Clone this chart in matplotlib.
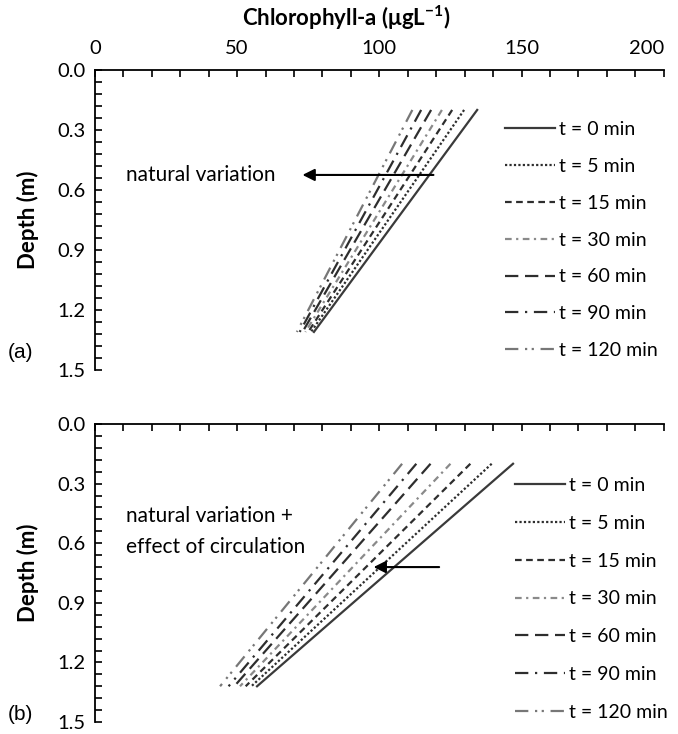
import matplotlib
matplotlib.use("Agg")
import matplotlib.pyplot as plt
from matplotlib.ticker import MultipleLocator

plt.rcParams['font.family'] = ['Lato', 'DejaVu Sans']
plt.rcParams['mathtext.fontset'] = 'custom'
plt.rcParams['mathtext.rm'] = 'Lato'
plt.rcParams['mathtext.bf'] = 'Lato:bold'

# data: each profile is a straight line between two depths
labels = ['t = 0 min', 't = 5 min', 't = 15 min', 't = 30 min',
          't = 60 min', 't = 90 min', 't = 120 min']
depth_a = [0.2, 1.31]
chl_a_top = [134.4, 129.8, 125.6, 122.0, 118.2, 114.7, 111.6]
chl_a_bot = [77.0, 76.0, 75.0, 74.0, 73.0, 72.0, 71.0]

depth_b = [0.2, 1.32]
chl_b_top = [147.0, 139.5, 132.0, 125.0, 118.0, 113.0, 108.0]
chl_b_bot = [57.0, 55.0, 53.0, 51.0, 49.0, 47.0, 44.0]

x_ticks = [0, 50, 100, 150, 200]
y_ticks = [0.0, 0.3, 0.6, 0.9, 1.2, 1.5]

styles = ['-', (0, (1, 1)), (0, (3, 2)), (0, (3, 2, 1, 2)),
          (0, (6, 3)), (0, (6, 3, 1, 3)), (0, (6, 3, 1, 2, 1, 3))]
colors = ['#3a3a3a', '#2e2e2e', '#2e2e2e', '#8a8a8a',
          '#2e2e2e', '#2e2e2e', '#777777']

fig = plt.figure(figsize=(6.78, 7.34), dpi=100)
ax1 = fig.add_axes([0.140, 0.496, 0.839, 0.4087])
ax2 = fig.add_axes([0.140, 0.0163, 0.839, 0.406])


def style_axis(ax, show_xlabels):
    ax.set_xlim(0, 200)
    ax.set_ylim(1.5, 0.0)
    ax.xaxis.tick_top()
    ax.set_xticks(x_ticks)
    ax.set_xticklabels([str(v) for v in x_ticks])
    ax.xaxis.set_minor_locator(MultipleLocator(10))
    ax.yaxis.set_minor_locator(MultipleLocator(0.06))
    ax.set_yticks(y_ticks)
    ax.set_yticklabels([f'{v:.1f}' for v in y_ticks])
    ax.tick_params(which='both', direction='in', length=5, width=1.2,
                   labelsize=14.5, pad=7)
    ax.tick_params(axis='x', pad=9)
    if not show_xlabels:
        ax.tick_params(axis='x', labeltop=False)
    for s in ['right', 'bottom']:
        ax.spines[s].set_visible(False)
    for s in ['left', 'top']:
        ax.spines[s].set_linewidth(1.3)
    ax.set_ylabel('Depth (m)', fontsize=16, fontweight='bold')
    ax.yaxis.set_label_coords(-0.098, 0.5)


for ax, d, top, bot in [(ax1, depth_a, chl_a_top, chl_a_bot),
                        (ax2, depth_b, chl_b_top, chl_b_bot)]:
    for i in range(len(labels)):
        ax.plot([top[i], bot[i]], d, linestyle=styles[i], color=colors[i],
                lw=1.6, label=labels[i])

style_axis(ax1, True)
style_axis(ax2, False)
# last x label sits flush with the axis end, as in the original
ax1.get_xticklabels()[-1].set_horizontalalignment('right')

fig.text(346 / 678, 1 - 18 / 734, 'Chlorophyll-a (μgL$^{\\mathbf{-1}}$)',
         fontsize=16, fontweight='bold', ha='center', va='center')

leg_kw = dict(frameon=False, fontsize=14, handlelength=2.57,
              handletextpad=0.2, borderpad=0, borderaxespad=0,
              loc='upper left')
ax1.legend(bbox_to_anchor=(505 / 678, 1 - 121 / 734),
           bbox_transform=fig.transFigure, labelspacing=1.02, **leg_kw)
ax2.legend(bbox_to_anchor=(515 / 678, 1 - 477 / 734),
           bbox_transform=fig.transFigure, labelspacing=1.07, **leg_kw)

# annotations
ax1.annotate('', xy=(72, 0.525), xytext=(120, 0.525),
             arrowprops=dict(arrowstyle='-|>', color='black', lw=1.5,
                             mutation_scale=18))
ax1.text(11, 0.525, 'natural variation', fontsize=15, va='center')

ax2.annotate('', xy=(97, 0.72), xytext=(122, 0.72),
             arrowprops=dict(arrowstyle='-|>', color='black', lw=1.5,
                             mutation_scale=18))
ax2.text(11, 0.54, 'natural variation +\neffect of circulation',
         fontsize=15, va='center', linespacing=1.65)

fig.text(8 / 678, 1 - 352 / 734, '(a)', fontsize=15,
         family='Liberation Sans', va='center')
fig.text(8 / 678, 1 - 715 / 734, '(b)', fontsize=15,
         family='Liberation Sans', va='center')

fig.savefig('out.png', dpi=100)
